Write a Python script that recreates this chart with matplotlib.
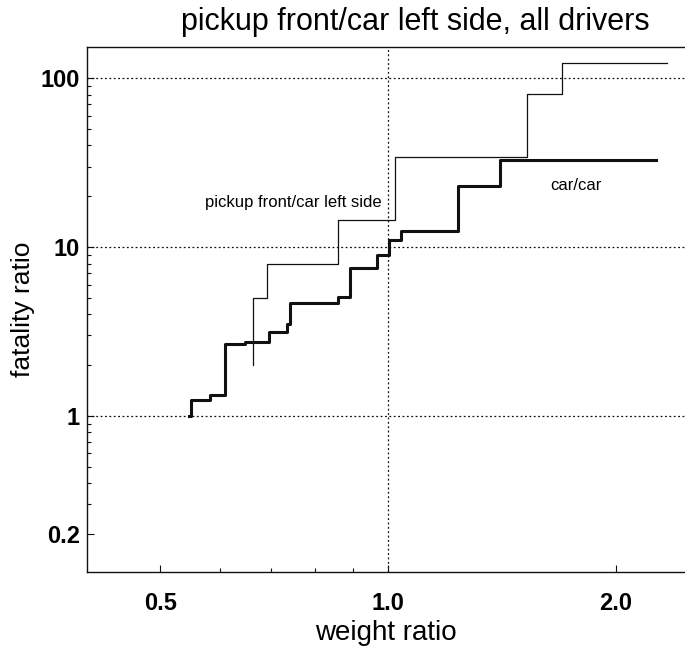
import matplotlib
matplotlib.use("Agg")
import matplotlib.pyplot as plt
from matplotlib import font_manager
from matplotlib.ticker import FixedLocator, FixedFormatter, NullFormatter

# narrow sans like the scanned original, fall back if missing
names = {f.name for f in font_manager.fontManager.ttflist}
narrow = "Liberation Sans Narrow" if "Liberation Sans Narrow" in names else "Liberation Sans"
plt.rcParams["font.family"] = [narrow, "DejaVu Sans"]

# pickup front / car left side (thin step line)
pickup_x = [0.663, 0.663, 0.691, 0.859, 1.021, 1.529, 1.701, 2.337]
pickup_y = [2.0, 5.0, 8.0, 14.4, 34.2, 81.0, 123.0, 123.0]

# car / car (thick step line)
car_x = [0.545, 0.549, 0.582, 0.609, 0.647, 0.697, 0.736, 0.743,
         0.860, 0.891, 0.966, 1.003, 1.040, 1.238, 1.406, 2.26]
car_y = [1.0, 1.24, 1.34, 2.66, 2.75, 3.13, 3.50, 4.68,
         5.08, 7.48, 9.0, 11.0, 12.5, 22.9, 33.0, 33.0]

y_ticks = [0.2, 1, 10, 100]
y_labels = ["0.2", "1", "10", "100"]
x_ticks = [0.5, 1.0, 2.0]
x_labels = ["0.5", "1.0", "2.0"]
x_minor = [0.6, 0.7, 0.8, 0.9]

fig = plt.figure(figsize=(6.85, 6.66), dpi=100)
ax = fig.add_axes([0.127, 0.141, 0.873, 0.788])

ink = "#111111"
ax.plot(pickup_x, pickup_y, drawstyle="steps-post", color=ink, lw=0.9)
ax.plot(car_x, car_y, drawstyle="steps-post", color=ink, lw=2.2)

ax.set_xscale("log")
ax.set_yscale("log")
ax.set_xlim(0.400, 2.47)
ax.set_ylim(0.119, 152.6)

# dotted grid only at 1, 10, 100 and x = 1
for gy in [1, 10, 100]:
    ax.axhline(gy, color=ink, lw=0.9, ls=(0, (1.5, 2)))
ax.axvline(1.0, color=ink, lw=0.9, ls=(0, (1.5, 2)))

ax.yaxis.set_major_locator(FixedLocator(y_ticks))
ax.yaxis.set_major_formatter(FixedFormatter(y_labels))
ax.yaxis.set_minor_formatter(NullFormatter())
ax.xaxis.set_major_locator(FixedLocator(x_ticks))
ax.xaxis.set_major_formatter(FixedFormatter(x_labels))
ax.xaxis.set_minor_locator(FixedLocator(x_minor))
ax.xaxis.set_minor_formatter(NullFormatter())

ax.tick_params(which="both", direction="in", color=ink, width=0.8,
               top=False, right=False)
ax.tick_params(which="major", length=5)
ax.tick_params(which="minor", length=3)
ax.tick_params(axis="y", which="major", pad=5, labelsize=17)
ax.tick_params(axis="x", which="major", pad=14, labelsize=17)
for lab in ax.get_xticklabels() + ax.get_yticklabels():
    lab.set_fontweight("bold")

for side in ["left", "bottom", "top"]:
    ax.spines[side].set_linewidth(1.0)
    ax.spines[side].set_color(ink)
ax.spines["right"].set_visible(False)

ax.set_xlabel("weight ratio", fontsize=20, labelpad=4)
ax.set_ylabel("fatality ratio", fontsize=19, va="center")
ax.yaxis.set_label_coords(-0.107, 0.5)
fig.text(0.607, 0.967, "pickup front/car left side, all drivers",
         fontsize=22, ha="center", va="center")

ax.text(0.573, 18.5, "pickup front/car left side", fontsize=12,
        ha="left", va="center")
ax.text(1.64, 23.3, "car/car", fontsize=12, ha="left", va="center")

fig.savefig("out.png", dpi=100)
